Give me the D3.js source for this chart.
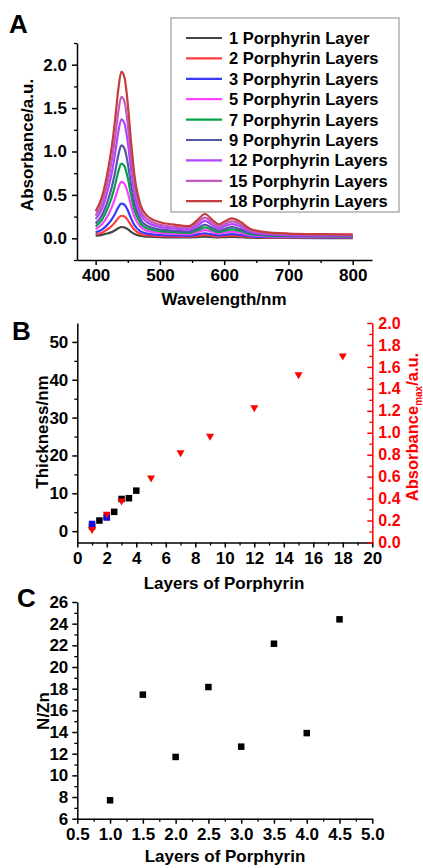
<!DOCTYPE html>
<html>
<head>
<meta charset="utf-8">
<script src="https://cdn.jsdelivr.net/npm/d3@7/dist/d3.min.js"></script>
<style>
  body { margin: 0; background: #fff; }
  svg { display: block; font-family: "Liberation Sans", Arial, sans-serif; font-weight: bold; }
</style>
</head>
<body>
<script>
// ---- Panel A: UV-vis spectra ----
var wavelengths = [400, 410, 420, 425, 430, 435, 440, 445, 450, 455, 460, 470, 480, 500, 520, 545, 557, 570, 582, 592, 600, 612, 625, 640, 660, 700, 750, 800];
var abs1  = [0.030, 0.040, 0.060, 0.071, 0.091, 0.115, 0.130, 0.125, 0.105, 0.076, 0.051, 0.026, 0.018, 0.012, 0.011, 0.009, 0.014, 0.019, 0.014, 0.011, 0.013, 0.016, 0.013, 0.007, 0.005, 0.004, 0.003, 0.003];
var abs2  = [0.050, 0.065, 0.111, 0.142, 0.183, 0.230, 0.260, 0.251, 0.210, 0.152, 0.101, 0.051, 0.035, 0.025, 0.022, 0.019, 0.027, 0.038, 0.028, 0.022, 0.026, 0.031, 0.026, 0.015, 0.010, 0.008, 0.007, 0.006];
var abs3  = [0.070, 0.100, 0.171, 0.219, 0.281, 0.354, 0.400, 0.386, 0.323, 0.233, 0.156, 0.079, 0.054, 0.038, 0.033, 0.029, 0.042, 0.058, 0.044, 0.033, 0.040, 0.048, 0.040, 0.023, 0.016, 0.012, 0.010, 0.009];
var abs5  = [0.105, 0.163, 0.278, 0.356, 0.457, 0.575, 0.650, 0.627, 0.525, 0.379, 0.254, 0.129, 0.088, 0.062, 0.054, 0.047, 0.068, 0.095, 0.071, 0.054, 0.064, 0.078, 0.064, 0.037, 0.025, 0.019, 0.016, 0.015];
var abs7  = [0.138, 0.215, 0.367, 0.470, 0.605, 0.761, 0.860, 0.829, 0.694, 0.501, 0.335, 0.170, 0.116, 0.083, 0.071, 0.063, 0.089, 0.126, 0.094, 0.071, 0.085, 0.103, 0.085, 0.049, 0.034, 0.025, 0.022, 0.020];
var abs9  = [0.172, 0.268, 0.457, 0.585, 0.752, 0.947, 1.070, 1.031, 0.863, 0.624, 0.417, 0.212, 0.144, 0.103, 0.089, 0.078, 0.111, 0.156, 0.117, 0.089, 0.106, 0.128, 0.106, 0.061, 0.042, 0.031, 0.027, 0.025];
var abs12 = [0.221, 0.343, 0.585, 0.749, 0.963, 1.212, 1.370, 1.321, 1.106, 0.799, 0.534, 0.271, 0.185, 0.132, 0.114, 0.100, 0.142, 0.200, 0.149, 0.114, 0.136, 0.164, 0.136, 0.078, 0.053, 0.040, 0.034, 0.032];
var abs15 = [0.262, 0.408, 0.696, 0.892, 1.146, 1.443, 1.630, 1.571, 1.315, 0.950, 0.636, 0.323, 0.220, 0.156, 0.135, 0.119, 0.170, 0.238, 0.178, 0.135, 0.161, 0.196, 0.161, 0.093, 0.064, 0.047, 0.041, 0.037];
var abs18 = [0.310, 0.480, 0.820, 1.050, 1.350, 1.700, 1.920, 1.850, 1.550, 1.120, 0.750, 0.380, 0.260, 0.185, 0.160, 0.140, 0.200, 0.280, 0.210, 0.160, 0.190, 0.230, 0.190, 0.110, 0.075, 0.055, 0.048, 0.045];
var spectraLabels = ["1 Porphyrin Layer", "2 Porphyrin Layers", "3 Porphyrin Layers", "5 Porphyrin Layers",
  "7 Porphyrin Layers", "9 Porphyrin Layers", "12 Porphyrin Layers", "15 Porphyrin Layers", "18 Porphyrin Layers"];
var spectraColors = ["#454545", "#ff3c3c", "#3838ff", "#ff40ff", "#00a444", "#5656a8", "#b244ff", "#c058c0", "#c43c3c"];
var wlTicks = [400, 500, 600, 700, 800];
var wlMinor = [450, 550, 650, 750];
var absTicks = [0, 0.5, 1.0, 1.5, 2.0];
var absMinor = [-0.25, 0.25, 0.75, 1.25, 1.75, 2.25];

// ---- Panel B: thickness and absorbance max ----
var layersThick = [1, 1.5, 2, 2.5, 3, 3.5, 4];
var thickness = [1.2, 2.8, 3.8, 5.1, 8.5, 8.7, 10.7];
var layersBlue = [1, 2];
var thicknessBlue = [1.9, 3.6];
var layersAbs = [1, 2, 3, 5, 7, 9, 12, 15, 18];
var absMax = [0.12, 0.26, 0.38, 0.59, 0.82, 0.97, 1.23, 1.53, 1.70];
var layerTicksB = [0, 2, 4, 6, 8, 10, 12, 14, 16, 18, 20];
var layerMinorB = [1, 3, 5, 7, 9, 11, 13, 15, 17, 19];
var thickTicks = [0, 10, 20, 30, 40, 50];
var thickMinor = [5, 15, 25, 35, 45];
var absMaxTicks = [0, 0.2, 0.4, 0.6, 0.8, 1.0, 1.2, 1.4, 1.6, 1.8, 2.0];
var absMaxMinor = [0.1, 0.3, 0.5, 0.7, 0.9, 1.1, 1.3, 1.5, 1.7, 1.9];

// ---- Panel C: N/Zn ratio ----
var layersC = [1, 1.5, 2, 2.5, 3, 3.5, 4, 4.5];
var nzn = [7.7, 17.45, 11.7, 18.15, 12.65, 22.15, 13.9, 24.4];
var layerTicksC = [0.5, 1.0, 1.5, 2.0, 2.5, 3.0, 3.5, 4.0, 4.5, 5.0];
var layerMinorC = [0.75, 1.25, 1.75, 2.25, 2.75, 3.25, 3.75, 4.25, 4.75];
var nznTicks = [6, 8, 10, 12, 14, 16, 18, 20, 22, 24, 26];
var nznMinor = [7, 9, 11, 13, 15, 17, 19, 21, 23, 25];

main();

function main() {
  appendSvg("body");
  drawPanelA();
  drawPanelB();
  drawPanelC();
}

function appendSvg(domElement) {
  svg = d3.select(domElement).append("svg")
    .attr("width", 423)
    .attr("height", 868);
  svg.append("rect").attr("width", 423).attr("height", 868).attr("fill", "#fff");
}

// major + minor ticks, Origin style
function addAxis(orient, scale, at, majors, minors, fmt, color, dir, pad, fontSize) {
  var make = { bottom: d3.axisBottom, left: d3.axisLeft, right: d3.axisRight }[orient];
  var tr = orient == "bottom" ? `translate(0, ${at})` : `translate(${at}, 0)`;
  var minor = svg.append("g").attr("transform", tr)
    .call(make(scale).tickValues(minors).tickFormat("").tickSize(dir * 3).tickSizeOuter(0));
  minor.select(".domain").remove();
  minor.selectAll("line").attr("stroke", color).attr("stroke-width", 1.3);
  var major = svg.append("g").attr("transform", tr)
    .call(make(scale).tickValues(majors).tickFormat(fmt).tickSize(dir * 5).tickSizeOuter(0).tickPadding(pad));
  major.select(".domain").attr("stroke", color).attr("stroke-width", 1.5);
  major.selectAll("line").attr("stroke", color).attr("stroke-width", 1.5);
  major.selectAll("text")
    .attr("fill", color)
    .style("font-size", (fontSize || 17) + "px")
    .style("font-family", "'Liberation Sans', Arial, sans-serif")
    .style("font-weight", "bold");
  return major;
}

function addLabel(txt, x, y, rotate, size, color) {
  return svg.append("text")
    .attr("transform", `translate(${x}, ${y})` + (rotate ? " rotate(-90)" : ""))
    .attr("text-anchor", "middle")
    .attr("fill", color || "#000")
    .style("font-size", size + "px")
    .text(txt);
}

function addSquares(xs, ys, x, y, color, size) {
  svg.append("g").selectAll("rect")
    .data(ys)
    .enter()
    .append("rect")
    .attr("x", function (d, i) { return x(xs[i]) - size / 2; })
    .attr("y", function (d) { return y(d) - size / 2; })
    .attr("width", size)
    .attr("height", size)
    .attr("fill", color);
}

function drawPanelA() {
  var x = d3.scaleLinear().domain([371, 830]).range([77, 372]);
  var y = d3.scaleLinear().domain([-0.25, 2.25]).range([260, 43]);

  var series = [abs1, abs2, abs3, abs5, abs7, abs9, abs12, abs15, abs18];
  var line = d3.line()
    .x(function (d, i) { return x(wavelengths[i]); })
    .y(function (d) { return y(d); })
    .curve(d3.curveMonotoneX);

  svg.append("g").selectAll("path")
    .data(series)
    .enter()
    .append("path")
    .attr("d", line)
    .attr("fill", "none")
    .attr("stroke", function (d, i) { return spectraColors[i]; })
    .attr("stroke-width", 2.2);

  addAxis("bottom", x, 260, wlTicks, wlMinor, d3.format("d"), "#000", 1, 4);
  addAxis("left", y, 77, absTicks, absMinor, d3.format(".1f"), "#000", 1, 5);

  // legend
  var legend = svg.append("g");
  legend.append("rect")
    .attr("x", 171).attr("y", 18).attr("width", 228).attr("height", 194)
    .attr("fill", "#fff").attr("stroke", "#9a9a9a").attr("stroke-width", 1.2);
  var rows = legend.selectAll("g.row")
    .data(spectraLabels)
    .enter()
    .append("g")
    .attr("transform", function (d, i) { return `translate(0, ${38 + i * 20.4})`; });
  rows.append("line")
    .attr("x1", 186).attr("x2", 222)
    .attr("stroke", function (d, i) { return spectraColors[i]; })
    .attr("stroke-width", 2.2);
  rows.append("text")
    .attr("x", 229).attr("y", 6)
    .style("font-size", "16.5px")
    .text(function (d) { return d; });

  addLabel("Absorbance/a.u.", 33, 145, true, 17);
  addLabel("Wavelength/nm", 224, 305, false, 17);
  svg.append("text").attr("x", 9).attr("y", 33).style("font-size", "26px").text("A");
}

function drawPanelB() {
  var x = d3.scaleLinear().domain([0, 20]).range([77.3, 372.3]);
  var yL = d3.scaleLinear().domain([-3, 55]).range([542.5, 323]);
  var yR = d3.scaleLinear().domain([0, 2]).range([542.5, 323]);

  addAxis("bottom", x, 542.5, layerTicksB, layerMinorB, d3.format("d"), "#000", 1, 4);
  addAxis("left", yL, 77.3, thickTicks, thickMinor, d3.format("d"), "#000", 1, 4);
  addAxis("right", yR, 372.3, absMaxTicks, absMaxMinor, d3.format(".1f"), "#ff0000", -1, 6, 16);

  addSquares(layersThick, thickness, x, yL, "#000", 6.5);
  addSquares(layersBlue, thicknessBlue, x, yL, "#1010e0", 6.5);

  // down-pointing triangles for absorbance max
  var tri = d3.symbol().type(d3.symbolTriangle).size(28);
  svg.append("g").selectAll("path")
    .data(absMax)
    .enter()
    .append("path")
    .attr("d", tri)
    .attr("transform", function (d, i) { return `translate(${x(layersAbs[i])}, ${yR(d)}) rotate(180)`; })
    .attr("fill", "#ff0000");

  addLabel("Thickness/nm", 47.5, 432, true, 17);
  var rl = svg.append("text")
    .attr("transform", "translate(418, 427) rotate(-90)")
    .attr("text-anchor", "middle")
    .attr("fill", "#ff0000")
    .style("font-size", "16.5px");
  rl.append("tspan").text("Absorbance");
  rl.append("tspan").attr("dy", 4).style("font-size", "10px").text("max");
  rl.append("tspan").attr("dy", -4).text("/a.u.");

  addLabel("Layers of Porphyrin", 224, 589, false, 17);
  svg.append("text").attr("x", 12).attr("y", 340).style("font-size", "26px").text("B");
}

function drawPanelC() {
  var x = d3.scaleLinear().domain([0.5, 5]).range([77.3, 372.3]);
  var y = d3.scaleLinear().domain([6, 26]).range([818.7, 602]);

  addAxis("bottom", x, 818.7, layerTicksC, layerMinorC, d3.format(".1f"), "#000", 1, 4);
  addAxis("left", y, 77.3, nznTicks, nznMinor, d3.format("d"), "#000", 1, 4);

  addSquares(layersC, nzn, x, y, "#000", 6.5);

  addLabel("N/Zn", 49, 711, true, 17);
  addLabel("Layers of Porphyrin", 225, 862, false, 17);
  svg.append("text").attr("x", 17).attr("y", 607).style("font-size", "26px").text("C");
}
</script>
</body>
</html>
